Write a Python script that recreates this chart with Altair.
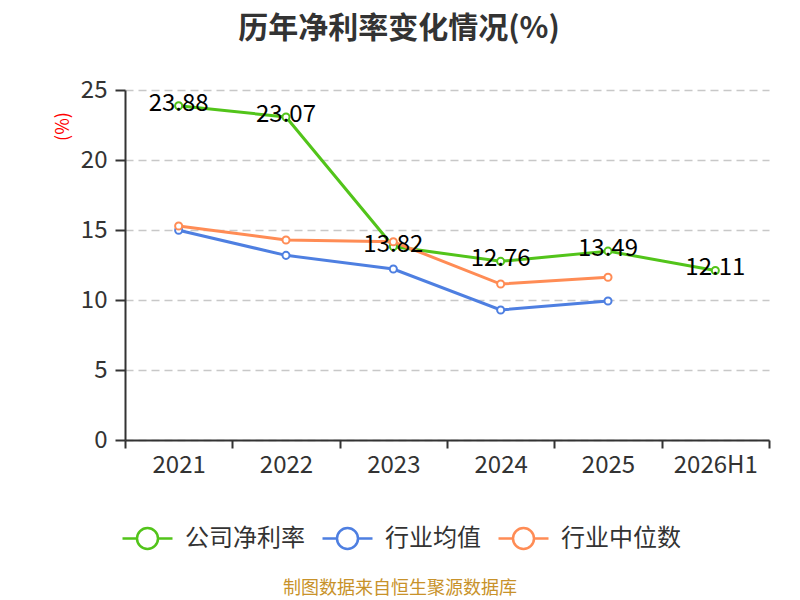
import altair as alt
import pandas as pd

years = ["2021", "2022", "2023", "2024", "2025", "2026H1"]
company = [23.88, 23.07, 13.82, 12.76, 13.49, 12.11]
ind_avg = [14.98, 13.19, 12.21, 9.29, 9.93]
ind_med = [15.29, 14.29, 14.16, 11.14, 11.62]
series_names = ["公司净利率", "行业均值", "行业中位数"]
colors = ["#52c41a", "#4e7fe1", "#ff8c55"]

rows = []
for name, vals in zip(series_names, [company, ind_avg, ind_med]):
    for y, v in zip(years, vals):
        rows.append({"year": y, "value": v, "series": name})
df = pd.DataFrame(rows)
df_company = df[df["series"] == series_names[0]]

FONT = "Noto Sans CJK SC"

x_enc = alt.X(
    "year:N",
    sort=years,
    bandPosition=0.5,
    scale=alt.Scale(type="band", domain=years, paddingInner=0, paddingOuter=0),
    axis=alt.Axis(
        title=None, tickBand="extent", labelFontSize=24, labelColor="#333",
        labelFont=FONT, domainColor="#333", tickColor="#333", domainWidth=2,
        tickWidth=2, tickSize=8, labelPadding=5, labelAngle=0, grid=False,
    ),
)
y_enc = alt.Y(
    "value:Q",
    scale=alt.Scale(domain=[0, 25], nice=False),
    axis=alt.Axis(
        values=[0, 5, 10, 15, 20, 25], title="(%)", titleColor="#ff0000",
        titleFontSize=18, titleFont=FONT, titleFontWeight="normal",
        titleAngle=270, titleX=-62, titleY=36, titleAlign="center",
        titleBaseline="middle", labelFontSize=24, labelColor="#333",
        labelFont=FONT, domain=True, domainColor="#333", domainWidth=2,
        tickColor="#333", tickWidth=2, tickSize=10, labelPadding=8,
        grid=True, gridDash=[8, 5], gridColor="#c8c8c8", gridWidth=1.5,
    ),
)
color_enc = alt.Color(
    "series:N",
    scale=alt.Scale(domain=series_names, range=colors),
    legend=alt.Legend(
        title=None, orient="none", direction="horizontal", legendX=-4, legendY=422,
        symbolType="M-1,0L-0.42,0M0.42,0L1,0M-0.42,0A0.42,0.42,0,1,1,0.42,0A0.42,0.42,0,1,1,-0.42,0",
        symbolSize=2500, symbolStrokeWidth=2.5, symbolFillColor="white",
        labelFontSize=24, labelFont=FONT, labelColor="#333", labelOffset=11,
        columnPadding=12, padding=0,
    ),
)

lines = alt.Chart(df).mark_line(strokeWidth=3).encode(x=x_enc, y=y_enc, color=color_enc)
points = alt.Chart(df).mark_point(
    filled=False, fill="white", fillOpacity=1, size=50, strokeWidth=2, opacity=1
).encode(
    x=x_enc, y=y_enc,
    color=alt.Color("series:N", scale=alt.Scale(domain=series_names, range=colors), legend=None),
)
labels = alt.Chart(df_company).mark_text(
    fontSize=24, font=FONT, color="black", baseline="middle", dy=-2
).encode(x=x_enc, y=y_enc, text=alt.Text("value:Q", format=".2f"))

footer = alt.Chart(pd.DataFrame({"t": ["制图数据来自恒生聚源数据库"]})).mark_text(
    fontSize=18, font=FONT, color="#c8922a", baseline="middle", align="center"
).encode(x=alt.value(275), y=alt.value(499), text="t:N")

chart = alt.layer(lines, points, labels, footer).properties(
    width=644,
    height=350,
    autosize=alt.AutoSizeParams(type="none"),
    padding={"left": 117, "top": 82, "right": 23, "bottom": 160},
    title=alt.Title(
        "历年净利率变化情况(%)", fontSize=30, fontWeight="bold", color="#333",
        font=FONT, anchor="middle", dx=-48, offset=34,
    ),
).configure_view(stroke=None)

chart.save("out.html", embed_options={"renderer": "svg", "actions": False})
